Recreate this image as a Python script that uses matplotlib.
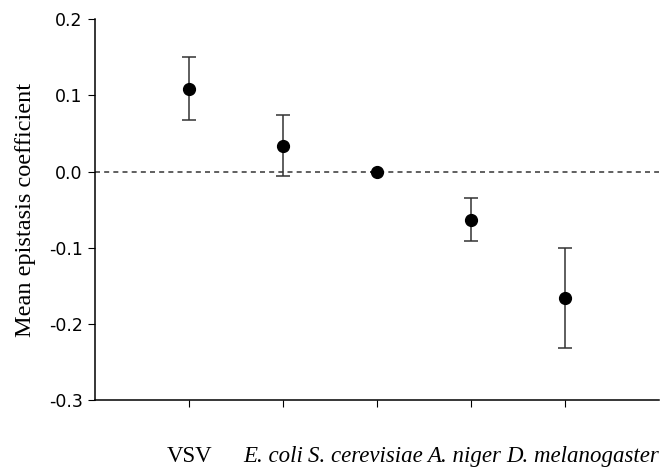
import matplotlib
matplotlib.use("Agg")
import matplotlib.pyplot as plt
from matplotlib.transforms import ScaledTranslation, blended_transform_factory

# Dados
especies = ["VSV", "E. coli", "S. cerevisiae", "A. niger", "D. melanogaster"]
italico = [False, True, True, True, True]
media = [0.109, 0.034, -0.001, -0.063, -0.166]
erro = [0.041, 0.040, 0.0, 0.028, 0.066]
yticks = [-0.3, -0.2, -0.1, 0.0, 0.1, 0.2]
ytick_labels = ["-0.3", "-0.2", "-0.1", "0.0", "0.1", "0.2"]
# deslocamento horizontal dos rotulos (em pixels), como na figura original
desloc = [0, -10, -11, -7, 18]

fig = plt.figure(figsize=(6.7, 4.67), dpi=100)
ax = fig.add_axes([0.142, 0.143, 0.841, 0.816])

pos = list(range(1, len(especies) + 1))

ax.axhline(0.0, color="#444444", linestyle=(0, (3, 2.5)), linewidth=1.2, zorder=1)
ax.errorbar(pos, media, yerr=erro, fmt="o", color="black", ecolor="#333333",
            markersize=8.5, capsize=5, elinewidth=1.1, capthick=1.1, zorder=3)

ax.set_xlim(0, 6)
ax.set_ylim(-0.3, 0.2)
ax.set_yticks(yticks)
ax.set_yticklabels(ytick_labels, fontsize=12.5)
ax.set_xticks(pos)
ax.set_xticklabels([])

# rotulos das especies (texto proprio para poder deslocar)
trans = blended_transform_factory(ax.transData, ax.transAxes)
for p, nome, it, d in zip(pos, especies, italico, desloc):
    t = trans + ScaledTranslation(d / fig.dpi, 0, fig.dpi_scale_trans)
    ax.text(p, -0.148, nome, transform=t, ha="center", va="center",
            fontsize=16.5, family="Liberation Serif",
            style="italic" if it else "normal", clip_on=False)

ax.tick_params(axis="x", direction="out", length=5)
ax.tick_params(axis="y", direction="out", length=5, pad=4)

ax.spines["top"].set_visible(False)
ax.spines["right"].set_visible(False)
ax.spines["left"].set_linewidth(1.1)
ax.spines["bottom"].set_linewidth(1.1)

ax.set_ylabel("Mean epistasis coefficient", fontsize=17.5, family="Liberation Serif", labelpad=9)

fig.savefig("out.png", dpi=100)
